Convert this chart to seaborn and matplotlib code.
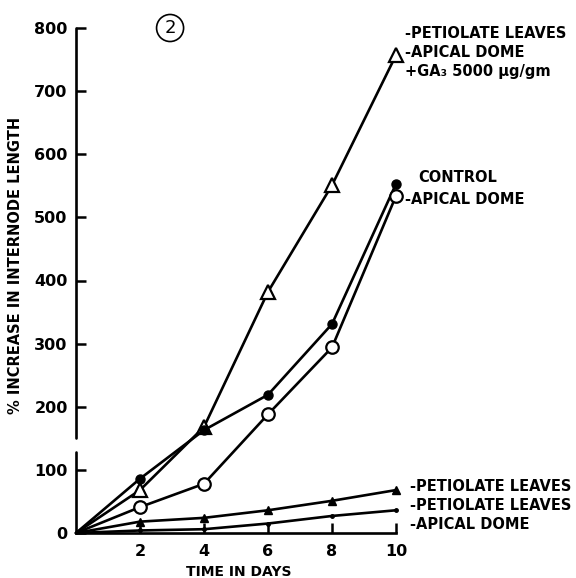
import numpy as np
import pandas as pd
import seaborn as sns
import matplotlib.pyplot as plt

sns.set_style("white")
plt.rcParams['font.family'] = ['DejaVu Sans']
plt.rcParams['font.weight'] = 'bold'
plt.rcParams['text.color'] = 'black'
plt.rcParams['axes.labelcolor'] = 'black'
plt.rcParams['xtick.color'] = 'black'
plt.rcParams['ytick.color'] = 'black'

# data (% increase in internode length)
days = [0, 2, 4, 6, 8, 10]
ga3_pet_apex = [0, 68, 168, 382, 551, 757]      # open triangles
control = [0, 86, 163, 219, 331, 553]           # filled circles
minus_apex = [0, 41, 78, 188, 294, 534]         # open circles
minus_pet = [0, 18, 24, 36, 51, 68]             # small filled triangles
minus_pet_apex = [0, 4, 6, 15, 27, 36]          # small dots

y_ticks = [0, 100, 200, 300, 400, 500, 600, 700, 800]
x_ticks = [2, 4, 6, 8, 10]

fig = plt.figure(figsize=(5.76, 5.78), dpi=100)
ax = fig.add_axes([76 / 576, 45 / 578, 320 / 576, 505 / 578])

series = [
    (ga3_pet_apex, dict(marker='^', markersize=10, markerfacecolor='white', markeredgewidth=1.6)),
    (control, dict(marker='o', markersize=6.5, markerfacecolor='black', markeredgewidth=1)),
    (minus_apex, dict(marker='o', markersize=9, markerfacecolor='white', markeredgewidth=1.6)),
    (minus_pet, dict(marker='^', markersize=5.5, markerfacecolor='black', markeredgewidth=1)),
    (minus_pet_apex, dict(marker='o', markersize=2.5, markerfacecolor='black', markeredgewidth=1)),
]
for vals, style in series:
    df = pd.DataFrame({'day': days, 'pct': vals})
    # no marker at the origin, only at the measured days
    sns.lineplot(data=df, x='day', y='pct', ax=ax, color='black', linewidth=1.9,
                 markeredgecolor='black', markevery=[1, 2, 3, 4, 5],
                 clip_on=False, zorder=3, **style)

ax.set_xlim(0, 10)
ax.set_ylim(0, 800)
ax.set_xticks(x_ticks)
ax.set_yticks(y_ticks)
ax.set_xticklabels([str(t) for t in x_ticks], fontsize=11.5, fontweight='bold')
ax.set_yticklabels([str(t) for t in y_ticks], fontsize=11.5, fontweight='bold')
ax.tick_params(axis='both', direction='in', length=7, width=1.8, color='black',
               bottom=True, left=True)
ax.tick_params(axis='y', pad=6)
ax.tick_params(axis='x', pad=8)
ax.set_xlabel('TIME IN DAYS', fontsize=10, fontweight='bold')
ax.xaxis.set_label_coords(0.51, -0.064)
ax.set_ylabel('% INCREASE IN INTERNODE LENGTH', fontsize=10.5, fontweight='bold')
ax.yaxis.set_label_coords(-0.165, 0.53)

for side in ['top', 'right', 'left']:
    ax.spines[side].set_visible(False)
ax.spines['bottom'].set_linewidth(1.9)
ax.spines['bottom'].set_color('black')
# broken y axis
ax.axvline(0, ymin=0, ymax=128 / 800, color='black', linewidth=1.9, clip_on=False)
ax.axvline(0, ymin=150 / 800, ymax=1, color='black', linewidth=1.9, clip_on=False)

txt = dict(fontsize=10.5, fontweight='bold', va='center', ha='left', clip_on=False)
ax.text(10.28, 792, '-PETIOLATE LEAVES', **txt)
ax.text(10.28, 761, '-APICAL DOME', **txt)
ax.text(10.28, 731, '+GA₃ 5000 µg/gm', **txt)
ax.text(10.69, 563, 'CONTROL', **txt)
ax.text(10.28, 528, '-APICAL DOME', **txt)
ax.text(10.44, 73, '-PETIOLATE LEAVES', **txt)
ax.text(10.44, 44, '-PETIOLATE LEAVES', **txt)
ax.text(10.44, 13, '-APICAL DOME', **txt)

ax.text(2.94, 800, '2', fontsize=13, fontweight='normal', ha='center', va='center',
        bbox=dict(boxstyle='circle,pad=0.25', fc='white', ec='black', lw=1.2), clip_on=False)

fig.savefig('out.png', dpi=100, facecolor='white')
